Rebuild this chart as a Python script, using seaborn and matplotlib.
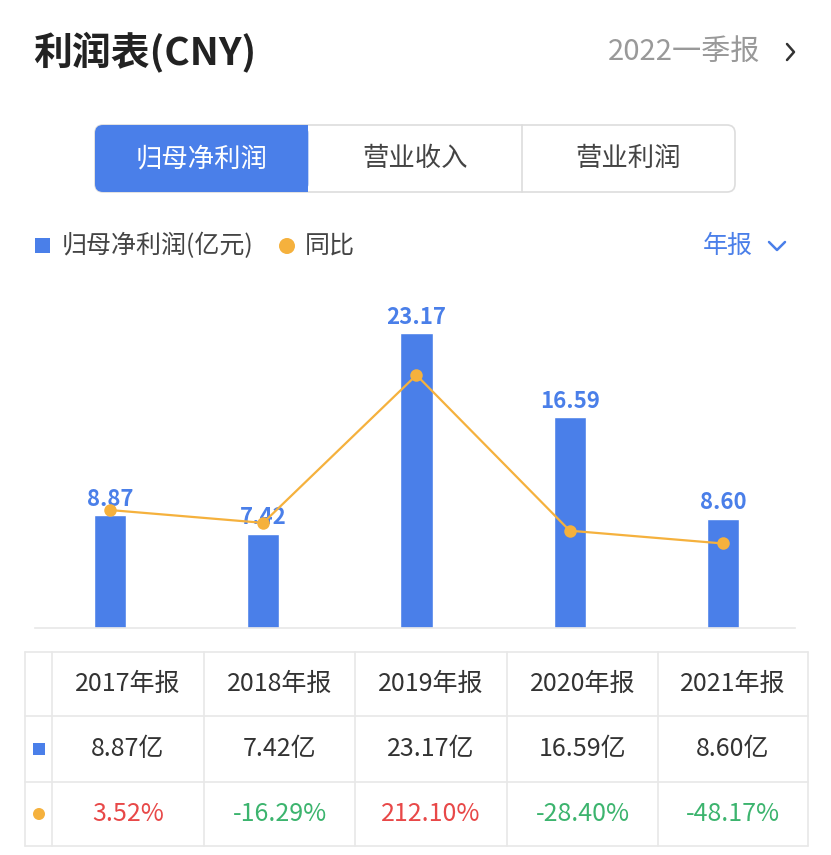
import numpy as np
import pandas as pd
import matplotlib
matplotlib.use('Agg')
import matplotlib.pyplot as plt
import seaborn as sns
from matplotlib.patches import FancyBboxPatch, Rectangle, Circle

years = ['2017年报', '2018年报', '2019年报', '2020年报', '2021年报']
profit = [8.87, 7.42, 23.17, 16.59, 8.60]
yoy = [3.52, -16.29, 212.10, -28.40, -48.17]
tabs = ['归母净利润', '营业收入', '营业利润']

BLUE = '#4a7fe9'
ORANGE = '#f5b13d'
RED = '#e84848'
GREEN = '#3cb46e'
DARK = '#333333'
LINE = '#e8e8e8'

sns.set_theme(style='white')
plt.rcParams['font.family'] = ['Noto Sans CJK SC', 'DejaVu Sans']

W, H = 831, 855
fig = plt.figure(figsize=(W / 100, H / 100), dpi=100)


def box(x0, y0, x1, y1):
    return [x0 / W, 1 - y1 / H, (x1 - x0) / W, (y1 - y0) / H]


# overlay in pixel coords for header, tabs, legend and table
ov = fig.add_axes([0, 0, 1, 1])
ov.set_xlim(0, W)
ov.set_ylim(H, 0)
ov.axis('off')

ov.text(33, 52, '利润表(CNY)', fontsize=28, fontweight='bold', color='#222222', va='center')
ov.text(760, 52, '2022一季报', fontsize=21, color='#999999', va='center', ha='right')
ov.plot([787, 794, 787], [44, 52, 60], color=DARK, lw=1.8, solid_capstyle='round')

# tabs
tx0, tx1, ty0, ty1 = 95, 735, 125, 192
tw = (tx1 - tx0) / len(tabs)
ov.add_patch(FancyBboxPatch((tx0, ty0), tx1 - tx0, ty1 - ty0,
                            boxstyle='round,pad=0,rounding_size=8',
                            fc='white', ec='#dddddd', lw=1.2))
ov.add_patch(FancyBboxPatch((tx0, ty0), tw, ty1 - ty0,
                            boxstyle='round,pad=0,rounding_size=8',
                            fc=BLUE, ec='none'))
ov.add_patch(Rectangle((tx0 + tw - 12, ty0), 12, ty1 - ty0, fc=BLUE, ec='none'))
for i, t in enumerate(tabs):
    cx = tx0 + tw * (i + 0.5)
    ov.text(cx, (ty0 + ty1) / 2, t, fontsize=19, ha='center', va='center',
            color='white' if i == 0 else '#444444')
    if i > 1:
        ov.plot([tx0 + tw * i] * 2, [ty0, ty1], color='#dddddd', lw=1.2)

# legend row
ov.add_patch(Rectangle((35, 238), 15, 15, fc=BLUE, ec='none'))
ov.text(62, 246, '归母净利润(亿元)', fontsize=18, color='#444444', va='center')
ov.add_patch(Circle((287, 246), 8, fc=ORANGE, ec='none'))
ov.text(305, 246, '同比', fontsize=18, color='#444444', va='center')
ov.text(703, 246, '年报', fontsize=18, color=BLUE, va='center')
ov.plot([769, 777, 785], [242, 250, 242], color=BLUE, lw=1.8, solid_capstyle='round')

# chart
ax = fig.add_axes(box(35, 290, 795, 628))
ax.patch.set_alpha(0)
df = pd.DataFrame({'year': years, 'profit': profit, 'yoy': yoy})
sns.barplot(data=df, x='year', y='profit', color=BLUE, saturation=1, width=0.21, ax=ax)
for i, v in enumerate(profit):
    ax.annotate(f'{v:.2f}', (i, v), xytext=(0, 3), textcoords='offset points',
                ha='center', va='bottom', color=BLUE, fontsize=16, fontweight='bold')
ax.set_xlim(-0.489, 4.47)
ax.set_ylim(0, 26.55)
ax.set_xlabel('')
ax.set_ylabel('')
ax.set_xticks([])
ax.set_yticks([])
for s in ['top', 'left', 'right']:
    ax.spines[s].set_visible(False)
ax.spines['bottom'].set_color(LINE)
ax.spines['bottom'].set_linewidth(1.2)

ax2 = ax.twinx()
sns.lineplot(x=np.arange(len(yoy)), y=yoy, ax=ax2, color=ORANGE, marker='o',
             markersize=9, markeredgewidth=0, linewidth=1.6)
ax2.set_ylim(-178.8, 343.6)
ax2.set_yticks([])
for s in ax2.spines.values():
    s.set_visible(False)
ax.set_xlim(-0.489, 4.47)

# table
cols = [25, 52, 204, 355, 507, 658, 808]
rows = [652, 716, 782, 846]
for y in rows:
    ov.plot([cols[0], cols[-1]], [y, y], color=LINE, lw=1.2)
for x in cols:
    ov.plot([x, x], [rows[0], rows[-1]], color=LINE, lw=1.2)

r_mid = [(rows[k] + rows[k + 1]) / 2 for k in range(3)]
for i in range(len(years)):
    cx = (cols[i + 1] + cols[i + 2]) / 2
    ov.text(cx, r_mid[0], years[i], fontsize=18, color=DARK, ha='center', va='center')
    ov.text(cx, r_mid[1], f'{profit[i]:.2f}亿', fontsize=18, color=DARK, ha='center', va='center')
    ov.text(cx, r_mid[2], f'{yoy[i]:.2f}%', fontsize=18,
            color=RED if yoy[i] > 0 else GREEN, ha='center', va='center')
ov.add_patch(Rectangle((33, r_mid[1] - 6), 12, 12, fc=BLUE, ec='none'))
ov.add_patch(Circle((39, r_mid[2]), 6, fc=ORANGE, ec='none'))

fig.savefig('out.png', dpi=100)
